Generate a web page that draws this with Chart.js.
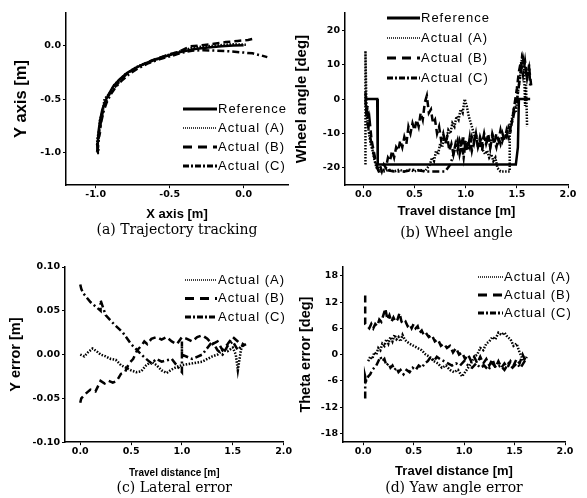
<!DOCTYPE html>
<html>
<head>
<meta charset="utf-8">
<script src="https://cdn.jsdelivr.net/npm/chart.js@4.4.0/dist/chart.umd.min.js"></script>
<style>
body { margin: 0; background: #fff; }
canvas { position: absolute; }
</style>
</head>
<body>
<canvas id="chart_a" width="293" height="250" style="left:0;top:0"></canvas>
<canvas id="chart_b" width="294" height="250" style="left:293px;top:0"></canvas>
<canvas id="chart_c" width="293" height="248" style="left:0;top:250px"></canvas>
<canvas id="chart_d" width="294" height="248" style="left:293px;top:250px"></canvas>
<script>
// (a) trajectory tracking
const traj_ref_x = [-0.99, -0.985, -0.98, -0.97, -0.955, -0.935, -0.91, -0.88, -0.84, -0.79, -0.73, -0.66, -0.58, -0.5, -0.42, -0.33, -0.24, -0.15, -0.07, 0.0]
const traj_ref_y = [-1.0, -0.9, -0.8, -0.7, -0.6, -0.52, -0.45, -0.38, -0.32, -0.26, -0.21, -0.165, -0.125, -0.09, -0.06, -0.035, -0.02, -0.01, -0.003, 0.0]
const traj_a_x = [-0.98, -0.99, -0.975, -0.97, -0.95, -0.94, -0.9, -0.875, -0.83, -0.8, -0.72, -0.67, -0.57, -0.5, -0.41, -0.34, -0.25, -0.16, -0.08, 0.02]
const traj_a_y = [-0.98, -0.88, -0.78, -0.69, -0.6, -0.5, -0.44, -0.37, -0.31, -0.27, -0.2, -0.17, -0.12, -0.085, -0.05, -0.02, -0.01, 0.0, 0.01, 0.005]
const traj_b_x = [-0.985, -0.99, -0.97, -0.965, -0.95, -0.93, -0.905, -0.87, -0.835, -0.785, -0.725, -0.655, -0.58, -0.5, -0.43, -0.36, -0.28, -0.2, -0.12, -0.04, 0.03, 0.08]
const traj_b_y = [-0.97, -0.92, -0.81, -0.71, -0.61, -0.53, -0.45, -0.39, -0.33, -0.26, -0.21, -0.16, -0.12, -0.085, -0.055, -0.01, 0.0, 0.015, 0.03, 0.04, 0.05, 0.065]
const traj_c_x = [-0.99, -0.98, -0.975, -0.96, -0.945, -0.925, -0.9, -0.865, -0.825, -0.775, -0.72, -0.65, -0.57, -0.49, -0.42, -0.35, -0.27, -0.19, -0.1, -0.02, 0.06, 0.12, 0.16]
const traj_c_y = [-0.99, -0.9, -0.8, -0.7, -0.61, -0.53, -0.46, -0.39, -0.33, -0.27, -0.22, -0.17, -0.13, -0.1, -0.07, -0.05, -0.045, -0.05, -0.055, -0.065, -0.075, -0.095, -0.11]

// (b) wheel angle
const wheel_ref_x = [0.02, 0.135, 0.14, 1.49, 1.51, 1.52, 1.63]
const wheel_ref_y = [0, 0, -19, -19, -14, 0, 0]
const wheel_a_x = [0.02, 0.02, 0.03, 0.05, 0.07, 0.09, 0.11, 0.13, 0.16, 0.2, 0.25, 0.3, 0.35, 0.4, 0.45, 0.5, 0.55, 0.6, 0.65, 0.67, 0.69, 0.71, 0.73, 0.75, 0.77, 0.79, 0.81, 0.83, 0.85, 0.87, 0.89, 0.91, 0.93, 0.95, 0.97, 0.99, 1.01, 1.03, 1.05, 1.07, 1.09, 1.11, 1.13, 1.15, 1.17, 1.19, 1.21, 1.23, 1.25, 1.27, 1.29, 1.31, 1.34, 1.37, 1.4, 1.43, 1.43, 1.45, 1.47, 1.49, 1.51, 1.53, 1.55, 1.57, 1.58, 1.59, 1.6]
const wheel_a_y = [-19, 14, -3, -9, -13, -15, -18, -20, -21, -21, -20.5, -21, -20.5, -21, -20.5, -21, -20.5, -21, -19, -17, -18, -15, -16, -13, -14, -11, -12, -9, -10, -7, -8, -5, -6, -3, -4, 0, -2, -5, -7, -9, -11, -12, -14, -13, -15, -16, -15, -17, -16, -18, -17, -20, -21, -21, -21, -21, -8, -6, -3, -4, 2, 6, 12, 10, -2, 4, -8]
const wheel_b_x = [0.02, 0.03, 0.04, 0.05, 0.06, 0.08, 0.1, 0.12, 0.14, 0.16, 0.18, 0.2, 0.22, 0.24, 0.26, 0.28, 0.3, 0.32, 0.34, 0.36, 0.38, 0.4, 0.42, 0.44, 0.46, 0.48, 0.5, 0.52, 0.54, 0.56, 0.58, 0.6, 0.62, 0.64, 0.66, 0.68, 0.7, 0.72, 0.74, 0.76, 0.78, 0.8, 0.82, 0.84, 0.86, 0.88, 0.9, 0.92, 0.94, 0.96, 0.98, 1.0, 1.02, 1.04, 1.06, 1.08, 1.1, 1.12, 1.14, 1.16, 1.18, 1.2, 1.22, 1.24, 1.26, 1.28, 1.3, 1.32, 1.34, 1.36, 1.38, 1.4, 1.42, 1.44, 1.46, 1.48, 1.5, 1.52, 1.54, 1.56, 1.58, 1.6, 1.62, 1.64]
const wheel_b_y = [0, -5, -2, -8, -6, -12, -15, -18, -20, -19, -21, -19, -20, -17, -18, -15, -17, -14, -15, -12, -14, -11, -13, -8, -10, -7, -9, -6, -8, -4, -6, -1, 1, -4, -3, -7, -6, -10, -8, -12, -10, -13, -11, -15, -13, -16, -13, -15, -12, -14, -11, -15, -12, -14, -11, -13, -10, -14, -12, -15, -11, -13, -10, -14, -11, -13, -10, -12, -9, -12, -10, -11, -8, -9, -5, -1, 3, 8, 11, 7, 11, 6, 9, 4]
const wheel_c_x = [0.02, 0.03, 0.04, 0.06, 0.08, 0.1, 0.12, 0.15, 0.2, 0.3, 0.4, 0.5, 0.6, 0.7, 0.8, 0.85, 0.87, 0.9, 0.92, 0.94, 0.96, 0.98, 1.0, 1.02, 1.04, 1.06, 1.08, 1.1, 1.12, 1.14, 1.16, 1.18, 1.2, 1.22, 1.24, 1.26, 1.28, 1.3, 1.32, 1.34, 1.36, 1.38, 1.4, 1.42, 1.44, 1.46, 1.48, 1.5, 1.52, 1.54, 1.56, 1.58, 1.6, 1.62, 1.63]
const wheel_c_y = [2, -4, -7, -10, -13, -16, -19, -21, -20.5, -21, -21, -20.5, -21, -21, -21, -19, -17, -14, -12, -16, -13, -17, -12, -15, -11, -15, -12, -10, -14, -11, -13, -10, -13, -11, -14, -10, -12, -14, -11, -13, -10, -12, -9, -11, -8, -6, -3, -1, 4, 8, 12, 9, 6, 10, 4]

// (c) lateral error
const lat_a_x = [0, 0.04, 0.08, 0.12, 0.16, 0.2, 0.25, 0.3, 0.35, 0.4, 0.45, 0.5, 0.55, 0.6, 0.65, 0.7, 0.75, 0.8, 0.85, 0.9, 0.95, 1.0, 1.05, 1.1, 1.15, 1.2, 1.25, 1.3, 1.35, 1.4, 1.45, 1.5, 1.53, 1.55, 1.58, 1.6, 1.62]
const lat_a_y = [0, -0.002, 0.003, 0.007, 0.004, 0.0, -0.002, -0.005, -0.006, -0.012, -0.015, -0.018, -0.02, -0.019, -0.012, -0.008, -0.012, -0.018, -0.021, -0.017, -0.014, -0.012, -0.011, -0.01, -0.009, -0.008, -0.005, -0.002, 0.0, 0.005, 0.004, 0.008, 0.0, -0.018, 0.005, 0.012, 0.01]
const lat_b_x = [0.0, 0.01, 0.05, 0.1, 0.15, 0.2, 0.24, 0.28, 0.32, 0.36, 0.4, 0.44, 0.48, 0.52, 0.56, 0.6, 0.63, 0.66, 0.7, 0.75, 0.8, 0.85, 0.9, 0.95, 1.0, 1.05, 1.1, 1.15, 1.2, 1.25, 1.3, 1.35, 1.4, 1.45, 1.5, 1.55, 1.6, 1.63]
const lat_b_y = [-0.055, -0.05, -0.045, -0.04, -0.042, -0.03, -0.033, -0.03, -0.032, -0.03, -0.022, -0.02, -0.01, -0.005, 0.005, 0.01, 0.015, 0.012, 0.018, 0.02, 0.017, 0.02, 0.015, 0.012, 0.02, 0.018, 0.015, 0.02, 0.022, 0.018, 0.012, 0.015, 0.005, 0.012, 0.02, 0.015, 0.01, 0.012]
const lat_c_x = [0.0, 0.01, 0.03, 0.1, 0.2, 0.2, 0.25, 0.33, 0.42, 0.5, 0.56, 0.6, 0.7, 0.75, 0.8, 0.9, 1.0, 1.0, 1.0, 1.1, 1.2, 1.3, 1.35, 1.4, 1.45, 1.5, 1.55, 1.6]
const lat_c_y = [0.08, 0.075, 0.07, 0.06, 0.05, 0.062, 0.045, 0.035, 0.025, 0.012, 0.005, 0.0, -0.01, -0.005, -0.008, -0.005, -0.02, 0.015, 0.0, -0.005, 0.0, 0.015, 0.005, 0.0, 0.01, 0.015, 0.005, 0.012]

// (d) yaw angle error
const yaw_a_x = [0.05, 0.07, 0.09, 0.11, 0.13, 0.15, 0.17, 0.19, 0.21, 0.23, 0.25, 0.27, 0.29, 0.31, 0.33, 0.35, 0.37, 0.39, 0.41, 0.43, 0.46, 0.5, 0.54, 0.58, 0.62, 0.66, 0.7, 0.74, 0.78, 0.82, 0.86, 0.9, 0.94, 0.98, 1.01, 1.04, 1.07, 1.1, 1.13, 1.16, 1.19, 1.22, 1.25, 1.28, 1.31, 1.34, 1.37, 1.4, 1.43, 1.46, 1.49, 1.52, 1.55, 1.58, 1.6]
const yaw_a_y = [-1.5, -0.5, -1, 0.5, 0, 1.5, 1, 2.5, 2, 3.5, 2.5, 4, 3, 4.5, 3.5, 4, 3, 4.5, 3.5, 3, 2.5, 2, 1.5, 1, 0, -0.5, -1.5, -2, -3, -2.5, -3.5, -4, -3.5, -5, -4, -3, -2, -0.5, 0, 1.5, 1, 2.5, 3, 4, 3.5, 5, 4.5, 5, 4, 3.5, 2, 2.5, 0.5, -1, -1.5]
const yaw_b_x = [0.02, 0.02, 0.04, 0.06, 0.08, 0.1, 0.12, 0.14, 0.16, 0.18, 0.2, 0.22, 0.24, 0.26, 0.28, 0.3, 0.32, 0.34, 0.36, 0.38, 0.4, 0.42, 0.44, 0.46, 0.48, 0.5, 0.52, 0.54, 0.56, 0.58, 0.6, 0.62, 0.65, 0.68, 0.71, 0.74, 0.77, 0.8, 0.83, 0.86, 0.89, 0.92, 0.95, 0.98, 1.01, 1.04, 1.07, 1.1, 1.13, 1.16, 1.19, 1.22, 1.25, 1.28, 1.31, 1.34, 1.37, 1.4, 1.43, 1.46, 1.49, 1.52, 1.55, 1.58, 1.6, 1.62]
const yaw_b_y = [13.5, 7, 6.5, 6, 7, 6, 7, 6.5, 8, 7.5, 9, 10.5, 8, 9, 7.5, 8.5, 7.5, 8, 9.5, 7.5, 7, 7.5, 6.5, 7, 6, 7, 6, 6.5, 5, 5.5, 4.5, 5, 4, 4.5, 3, 3.5, 2, 2.5, 1.5, 2, 0.5, 1.5, 0, 0.5, -1, 0, -1.5, -0.5, -2, -0.5, -2, -1, -2.5, -1, -3, -1.5, -3, -2, -3, -1.5, -2.5, -1, -2, 0, -1, 0]
const yaw_c_x = [0.02, 0.02, 0.03, 0.05, 0.07, 0.09, 0.11, 0.13, 0.15, 0.17, 0.19, 0.21, 0.23, 0.25, 0.27, 0.29, 0.31, 0.33, 0.35, 0.37, 0.4, 0.43, 0.46, 0.49, 0.52, 0.55, 0.58, 0.61, 0.64, 0.67, 0.7, 0.73, 0.76, 0.8, 0.84, 0.88, 0.92, 0.96, 1.0, 1.04, 1.08, 1.12, 1.16, 1.2, 1.24, 1.28, 1.32, 1.36, 1.4, 1.44, 1.48, 1.52, 1.56, 1.6, 1.62]
const yaw_c_y = [-10, -5, -6, -5, -4.5, -3.5, -3, -2.5, -1.5, -0.5, -1.5, -1, -2.5, -2, -3, -2.5, -3.5, -3, -4, -3.5, -4.5, -3.5, -4, -3, -3.5, -2.5, -3, -2, -1.5, -0.5, -1.5, -0.5, -1, -1.5, -2, -2.5, -2, -2.5, -1.5, -2.5, -3, -2, -3, -2.5, -3.5, -2, -3, -2.5, -3.5, -2, -3, -2, -3, -1.5, -0.5]

// tick labels
const traj_x_ticks = [-1.0, -0.5, 0.0]
const traj_y_ticks = [-1.0, -0.5, 0.0]
const dist_ticks = [0.0, 0.5, 1.0, 1.5, 2.0]
const wheel_y_ticks = [-20, -10, 0, 10, 20]
const lat_y_ticks = [-0.10, -0.05, 0.00, 0.05, 0.10]
const yaw_y_ticks = [-18, -12, -6, 0, 6, 12, 18]

const series_names = ["Reference", "Actual (A)", "Actual (B)", "Actual (C)"]

Chart.defaults.font.family = '"Liberation Sans", Arial, sans-serif'
Chart.defaults.color = '#000'

const tick_font = { family: '"DejaVu Sans", sans-serif', size: 9.5, weight: 'bold' }

const styles = [
    { dash: [], width: 2.5, legend_width: 3, legend_dash: [] },
    { dash: [1.5, 1.5], width: 2.5, legend_width: 1.5, legend_dash: [1, 1] },
    { dash: [7, 4], width: 2.5, legend_width: 3, legend_dash: [9, 6] },
    { dash: [7, 3, 2, 3], width: 2.5, legend_width: 3, legend_dash: [6, 2, 2, 2] }
]

const to_points = (xs, ys) => xs.map((x, i) => ({ x: x, y: ys[i] }))

const make_dataset = (idx, xs, ys) => ({
    label: series_names[idx],
    data: to_points(xs, ys),
    showLine: true,
    pointRadius: 0,
    borderColor: '#000',
    backgroundColor: '#000',
    borderWidth: styles[idx].width,
    borderDash: styles[idx].dash,
    tension: 0,
    style_idx: idx
})

// legend drawn inside the plot like the original figure
const inner_legend = {
    id: 'inner_legend',
    afterDraw(chart, args, opts) {
        const ctx = chart.ctx
        ctx.save()
        ctx.font = '13px "Liberation Sans", Arial, sans-serif'
        ctx.letterSpacing = '1px'
        ctx.textBaseline = 'middle'
        ctx.fillStyle = '#000'
        ctx.strokeStyle = '#000'
        chart.data.datasets.forEach((ds, i) => {
            const st = styles[ds.style_idx]
            const y = opts.y + i * opts.gap
            ctx.beginPath()
            ctx.lineWidth = st.legend_width
            ctx.setLineDash(st.legend_dash)
            ctx.moveTo(opts.x, y)
            ctx.lineTo(opts.x + opts.len, y)
            ctx.stroke()
            ctx.setLineDash([])
            ctx.fillText(ds.label, opts.x + opts.len + 1, y)
        })
        ctx.restore()
    }
}

const make_chart = (id, p) => {
    const cfg = {
        type: 'scatter',
        data: { datasets: p.datasets },
        plugins: [inner_legend],
        options: {
            responsive: false,
            animation: false,
            layout: { padding: p.pad },
            plugins: {
                legend: { display: false },
                tooltip: { enabled: false },
                title: {
                    display: true,
                    position: 'bottom',
                    fullSize: false,
                    text: p.caption,
                    font: { family: '"DejaVu Serif", serif', size: 14, weight: 'normal' },
                    padding: { top: p.cap_pad, bottom: 0 }
                },
                inner_legend: p.legend
            },
            scales: {
                x: {
                    type: 'linear',
                    min: p.x_min,
                    max: p.x_max,
                    afterBuildTicks: (s) => { s.ticks = p.x_ticks.map((v) => ({ value: v })) },
                    afterFit: (s) => { s.height = p.x_h },
                    ticks: { font: tick_font, padding: 1, maxRotation: 0, autoSkip: false, callback: (v) => v.toFixed(p.x_dec) },
                    grid: { drawOnChartArea: false, tickLength: 3, tickColor: '#000', color: '#000' },
                    border: { color: '#000', width: 1.5 },
                    title: { display: true, text: p.x_title, font: { size: p.x_title_size, weight: 'bold' }, padding: { top: 0, bottom: 0 } }
                },
                y: {
                    type: 'linear',
                    min: p.y_min,
                    max: p.y_max,
                    afterBuildTicks: (s) => { s.ticks = p.y_ticks.map((v) => ({ value: v })) },
                    afterFit: (s) => { s.width = p.y_w },
                    ticks: { font: tick_font, padding: 2, autoSkip: false, callback: (v) => v.toFixed(p.y_dec) },
                    grid: { drawOnChartArea: false, tickLength: 3, tickColor: '#000', color: '#000' },
                    border: { color: '#000', width: 1.5 },
                    title: { display: true, text: p.y_title, font: { size: p.y_title_size, weight: 'bold' }, padding: { top: p.y_title_pad, bottom: 0 } }
                }
            }
        }
    }
    return new Chart(document.getElementById(id), cfg)
}

make_chart('chart_a', {
    datasets: [
        make_dataset(0, traj_ref_x, traj_ref_y),
        make_dataset(1, traj_a_x, traj_a_y),
        make_dataset(2, traj_b_x, traj_b_y),
        make_dataset(3, traj_c_x, traj_c_y)
    ],
    caption: '(a) Trajectory tracking', cap_pad: 0,
    pad: { left: 0, right: 5, top: 13, bottom: 11 },
    x_min: -1.2, x_max: 0.3, x_ticks: traj_x_ticks, x_dec: 1, x_h: 37, x_title: 'X axis [m]', x_title_size: 13,
    y_min: -1.3, y_max: 0.3, y_ticks: traj_y_ticks, y_dec: 1, y_w: 66, y_title: 'Y axis [m]', y_title_size: 16.5, y_title_pad: 12,
    legend: { x: 183, y: 109, gap: 19, len: 34 }
})

make_chart('chart_b', {
    datasets: [
        make_dataset(0, wheel_ref_x, wheel_ref_y),
        make_dataset(1, wheel_a_x, wheel_a_y),
        make_dataset(2, wheel_b_x, wheel_b_y),
        make_dataset(3, wheel_c_x, wheel_c_y)
    ],
    caption: '(b) Wheel angle', cap_pad: 6,
    pad: { left: 0, right: 19, top: 13, bottom: 8 },
    x_min: -0.18, x_max: 2.0, x_ticks: dist_ticks, x_dec: 1, x_h: 34, x_title: 'Travel distance [m]', x_title_size: 13,
    y_min: -25, y_max: 25, y_ticks: wheel_y_ticks, y_dec: 0, y_w: 52, y_title: 'Wheel angle [deg]', y_title_size: 15, y_title_pad: 0,
    legend: { x: 94, y: 18, gap: 20, len: 33 }
})

make_chart('chart_c', {
    datasets: [
        make_dataset(1, lat_a_x, lat_a_y),
        make_dataset(2, lat_b_x, lat_b_y),
        make_dataset(3, lat_c_x, lat_c_y)
    ],
    caption: '(c) Lateral error', cap_pad: 1,
    pad: { left: 0, right: 5, top: 17, bottom: 1 },
    x_min: -0.15, x_max: 2.0, x_ticks: dist_ticks, x_dec: 1, x_h: 37, x_title: 'Travel distance [m]', x_title_size: 10,
    y_min: -0.1, y_max: 0.1, y_ticks: lat_y_ticks, y_dec: 2, y_w: 65, y_title: 'Y error [m]', y_title_size: 14.5, y_title_pad: 7,
    legend: { x: 185, y: 30, gap: 18.5, len: 32 }
})

make_chart('chart_d', {
    datasets: [
        make_dataset(1, yaw_a_x, yaw_a_y),
        make_dataset(2, yaw_b_x, yaw_b_y),
        make_dataset(3, yaw_c_x, yaw_c_y)
    ],
    caption: '(d) Yaw angle error', cap_pad: 1,
    pad: { left: 0, right: 22, top: 17, bottom: 1 },
    x_min: -0.2, x_max: 2.0, x_ticks: dist_ticks, x_dec: 1, x_h: 37, x_title: 'Travel distance [m]', x_title_size: 13,
    y_min: -20, y_max: 20, y_ticks: yaw_y_ticks, y_dec: 0, y_w: 50, y_title: 'Theta error [deg]', y_title_size: 14.5, y_title_pad: 4,
    legend: { x: 185, y: 27, gap: 18, len: 25 }
})
</script>
</body>
</html>
